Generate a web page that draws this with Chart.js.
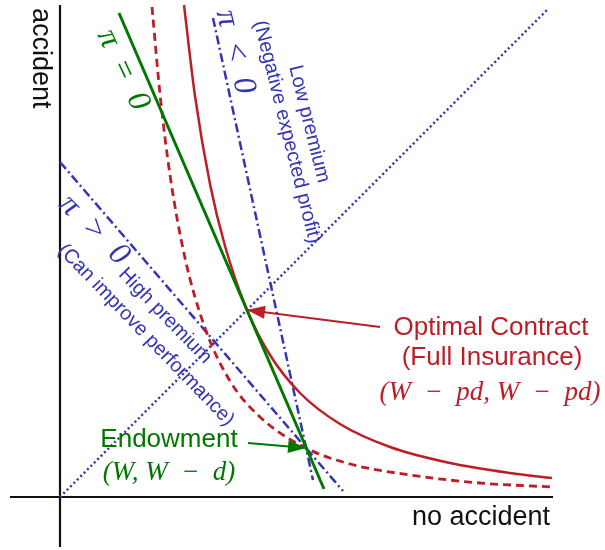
<!DOCTYPE html>
<html>
<head>
<meta charset="utf-8">
<script src="https://cdn.jsdelivr.net/npm/chart.js@4.4.1/dist/chart.umd.min.js"></script>
<style>
  body { margin: 0; background: #fff; }
</style>
</head>
<body>
<canvas id="insurance_chart" width="605" height="550"></canvas>
<script>
// x = wealth with no accident, y = wealth after an accident
const axisX = { x: [-50, 493], y: [0, 0] };
const axisY = { x: [0, 0], y: [-50, 492] };

// indifference curve through the full insurance point
const fullInsuranceX = [124, 135, 150, 165, 187, 210, 240, 280, 330, 390, 450, 492];
const fullInsuranceY = [492, 401, 313, 251, 187, 142, 104, 73, 50, 34, 24, 19];

// indifference curve through the endowment
const endowmentCurveX = [92, 100, 110, 125, 145, 170, 200, 246, 290, 350, 420, 492];
const endowmentCurveY = [490, 403, 322, 239, 169, 116, 80, 49, 33, 22, 14, 10];

// 45 degree certainty line
const certaintyX = [0, 488];
const certaintyY = [0, 488];

// budget lines through the endowment
const zeroProfitX = [59, 264];
const zeroProfitY = [484, 8];
const lowPremiumX = [153, 253];
const lowPremiumY = [479, 17];
const highPremiumX = [0, 283];
const highPremiumY = [335, 6];

const endowment = [246, 49];
const optimal = [187, 187];
const optimalArrowFrom = [320, 170];
const endowmentArrowFrom = [188, 54];

const RED = '#bb1e27';
const GREEN = '#007800';
const BLUE = '#3434b4';
const SANS = "'Liberation Sans', Arial, Helvetica, sans-serif";
const SERIF = "'Liberation Serif', 'Times New Roman', serif";

const pts = (xs, ys) => xs.map((x, i) => ({ x: x, y: ys[i] }));

const labelPlugin = {
    id: 'diagramLabels',
    afterDatasetsDraw(chart, args, opts) {
        const ctx = chart.ctx;
        const sx = chart.scales.x, sy = chart.scales.y;
        opts.items.forEach(l => {
            ctx.save();
            ctx.translate(sx.getPixelForValue(l.at[0]), sy.getPixelForValue(l.at[1]));
            ctx.rotate((l.angle || 0) * Math.PI / 180);
            ctx.font = l.font;
            ctx.fillStyle = l.color;
            ctx.textAlign = l.align || 'center';
            ctx.textBaseline = l.baseline || 'alphabetic';
            ctx.fillText(l.text, 0, 0);
            ctx.restore();
        });
    }
};

const arrowPlugin = {
    id: 'arrowHeads',
    afterDatasetsDraw(chart) {
        const ctx = chart.ctx;
        chart.data.datasets.forEach((ds, i) => {
            if (!ds.arrow) return;
            const p = chart.getDatasetMeta(i).data;
            const a = p[p.length - 2], b = p[p.length - 1];
            ctx.save();
            ctx.translate(b.x, b.y);
            ctx.rotate(Math.atan2(b.y - a.y, b.x - a.x));
            ctx.beginPath();
            ctx.moveTo(0, 0);
            ctx.lineTo(-18, -6.5);
            ctx.lineTo(-18, 6.5);
            ctx.closePath();
            ctx.fillStyle = ds.borderColor;
            ctx.fill();
            ctx.restore();
        });
    }
};

const ctx = document.getElementById('insurance_chart').getContext('2d');

new Chart(ctx, {
    type: 'scatter',
    data: {
        datasets: [
            {
                data: pts([endowmentArrowFrom[0], endowment[0]], [endowmentArrowFrom[1], endowment[1]]),
                borderColor: GREEN, borderWidth: 1.8, arrow: true
            },
            {
                data: pts([optimalArrowFrom[0], optimal[0]], [optimalArrowFrom[1], optimal[1]]),
                borderColor: RED, borderWidth: 1.8, arrow: true
            },
            {
                data: pts(zeroProfitX, zeroProfitY),
                borderColor: GREEN, borderWidth: 3
            },
            {
                data: pts(fullInsuranceX, fullInsuranceY),
                borderColor: RED, borderWidth: 2.5, cubicInterpolationMode: 'monotone'
            },
            {
                data: pts(endowmentCurveX, endowmentCurveY),
                borderColor: RED, borderWidth: 2.8, borderDash: [8, 5],
                cubicInterpolationMode: 'monotone'
            },
            {
                data: pts(lowPremiumX, lowPremiumY),
                borderColor: BLUE, borderWidth: 2.5, borderDash: [9, 3.5, 2, 3.5]
            },
            {
                data: pts(highPremiumX, highPremiumY),
                borderColor: BLUE, borderWidth: 2.5, borderDash: [9, 3.5, 2, 3.5]
            },
            {
                data: pts(certaintyX, certaintyY),
                borderColor: BLUE, borderWidth: 2.5, borderDash: [2, 2.8]
            },
            {
                data: pts(axisX.x, axisX.y),
                borderColor: '#111', borderWidth: 2.2
            },
            {
                data: pts(axisY.x, axisY.y),
                borderColor: '#111', borderWidth: 2.2
            }
        ]
    },
    options: {
        responsive: false,
        animation: false,
        showLine: true,
        layout: { padding: 0 },
        elements: { point: { radius: 0, hoverRadius: 0 } },
        scales: {
            x: { type: 'linear', min: -60, max: 545, display: false },
            y: { type: 'linear', min: -53, max: 497, display: false }
        },
        plugins: {
            legend: { display: false },
            tooltip: { enabled: false },
            diagramLabels: {
                items: [
                    { text: 'accident', at: [-20, 489], angle: 90, align: 'left', baseline: 'middle', font: '27px ' + SANS, color: '#111' },
                    { text: 'no accident', at: [421, -28], font: '27px ' + SANS, color: '#111' },
                    { text: '\u03c0\u2002=\u20020', at: [63, 427], angle: 65, baseline: 'middle', font: 'italic 32px ' + SERIF, color: GREEN },
                    { text: '\u03c0\u2002<\u20020', at: [175, 445], angle: 76, baseline: 'middle', font: 'italic 32px ' + SERIF, color: BLUE },
                    { text: 'Low premium', at: [249, 373], angle: 76, baseline: 'middle', font: '20px ' + SANS, color: BLUE },
                    { text: '(Negative expected profit)', at: [227, 365], angle: 76, baseline: 'middle', font: '20px ' + SANS, color: BLUE },
                    { text: '\u03c0\u2002>\u20020', at: [34, 267], angle: 45, baseline: 'middle', font: 'italic 32px ' + SERIF, color: BLUE },
                    { text: 'High premium', at: [105, 181], angle: 46, baseline: 'middle', font: '20px ' + SANS, color: BLUE },
                    { text: '(Can improve performance)', at: [86, 162], angle: 46, baseline: 'middle', font: '20px ' + SANS, color: BLUE },
                    { text: 'Optimal Contract', at: [431, 162], font: '26px ' + SANS, color: RED },
                    { text: '(Full Insurance)', at: [432, 132], font: '26px ' + SANS, color: RED },
                    { text: '(W\u2002\u2212\u2002pd, W\u2002\u2212\u2002pd)', at: [430, 97], font: 'italic 27px ' + SERIF, color: RED },
                    { text: 'Endowment', at: [109, 50], font: '26px ' + SANS, color: GREEN },
                    { text: '(W, W\u2002\u2212\u2002d)', at: [109, 17], font: 'italic 27px ' + SERIF, color: GREEN }
                ]
            }
        }
    },
    plugins: [arrowPlugin, labelPlugin]
});
</script>
</body>
</html>
